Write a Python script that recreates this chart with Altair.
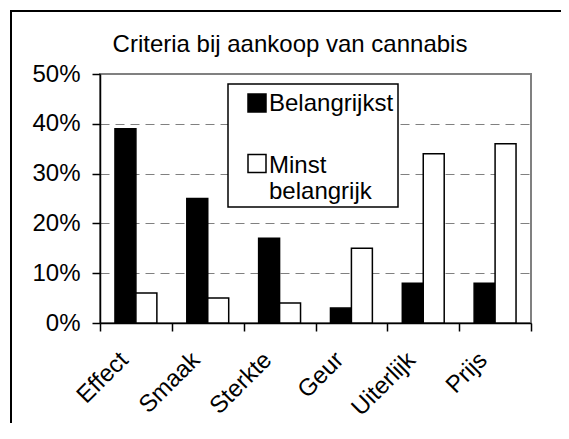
import altair as alt
import pandas as pd

title_text = "Criteria bij aankoop van cannabis"
categories = ["Effect", "Smaak", "Sterkte", "Geur", "Uiterlijk", "Prijs"]
series = ["Belangrijkst", "Minst belangrijk"]
belangrijkst = [0.39, 0.25, 0.17, 0.03, 0.08, 0.08]
minst_belangrijk = [0.06, 0.05, 0.04, 0.15, 0.34, 0.36]
y_ticks = [0, 0.1, 0.2, 0.3, 0.4, 0.5]

rows = []
for c, v in zip(categories, belangrijkst):
    rows.append({"criterium": c, "reeks": series[0], "aandeel": v})
for c, v in zip(categories, minst_belangrijk):
    rows.append({"criterium": c, "reeks": series[1], "aandeel": v})
df = pd.DataFrame(rows)
leg_df = pd.DataFrame({"reeks": series})
title_df = pd.DataFrame({"t": [title_text]})

FONT = "Liberation Sans"
W, H = 431, 249

color = alt.Color(
    "reeks:N",
    scale=alt.Scale(domain=series, range=["#000000", "#ffffff"]),
    legend=None,
)

bars = alt.Chart(df).mark_bar(stroke="black", strokeWidth=1.5).encode(
    x=alt.X(
        "criterium:N",
        sort=categories,
        scale=alt.Scale(paddingInner=0, paddingOuter=0),
        axis=alt.Axis(
            title=None, labelAngle=-45, labelAlign="right", labelBaseline="middle",
            labelFontSize=24, labelFont=FONT, labelColor="black",
            tickBand="extent", tickSize=8, tickColor="black", tickWidth=1.5,
            domainColor="black", domainWidth=1.5, labelPadding=25, labelOffset=-12,
            grid=False,
        ),
    ),
    xOffset=alt.XOffset("reeks:N", sort=series,
                        scale=alt.Scale(paddingInner=0, paddingOuter=0.714)),
    y=alt.Y(
        "aandeel:Q",
        scale=alt.Scale(domain=[0, 0.5], nice=False),
        axis=alt.Axis(
            values=y_ticks, format=".0%", title=None,
            labelFontSize=24, labelFont=FONT, labelColor="black", labelPadding=12,
            tickSize=8, tickColor="black", tickWidth=1.5,
            domainColor="black", domainWidth=1.5,
            grid=True, gridDash=[9, 6], gridColor="#808080", gridWidth=1,
        ),
    ),
    color=color,
)

frame = alt.Chart(title_df).mark_rect(fillOpacity=0, stroke="black", strokeWidth=2).encode(
    x=alt.value(-89), x2=alt.value(600), y=alt.value(-63), y2=alt.value(520)
)

title = alt.Chart(title_df).mark_text(
    align="center", baseline="alphabetic", fontSize=24, font=FONT, color="black"
).encode(text="t:N", x=alt.value(190), y=alt.value(-22))

box = alt.Chart(title_df).mark_rect(fill="white", stroke="black", strokeWidth=1.5).encode(
    x=alt.value(128), x2=alt.value(298), y=alt.value(10), y2=alt.value(133)
)

def legend_row(name, sy, ty):
    sq = alt.Chart(leg_df).transform_filter(alt.datum.reeks == name).mark_square(
        size=18 * 18, opacity=1, filled=True, stroke="black", strokeWidth=1.5
    ).encode(x=alt.value(157), y=alt.value(sy), color=color)
    tx = alt.Chart(leg_df).transform_filter(alt.datum.reeks == name).mark_text(
        align="left", baseline="alphabetic", fontSize=24, font=FONT, color="black",
        lineBreak=" ", lineHeight=26,
    ).encode(x=alt.value(169), y=alt.value(ty), text="reeks:N")
    return sq, tx

sq1, tx1 = legend_row(series[0], 29, 37)
sq2, tx2 = legend_row(series[1], 89.5, 99)

chart = alt.layer(frame, title, bars, box, sq1, tx1, sq2, tx2).properties(
    width=W, height=H,
    autosize=alt.AutoSizeParams(type="none"),
    padding={"left": 92, "top": 66, "right": 30, "bottom": 100},
    background="white",
).configure_view(stroke="#808080", strokeWidth=2)

chart.save("out.html", embed_options={"renderer": "svg", "actions": False})
